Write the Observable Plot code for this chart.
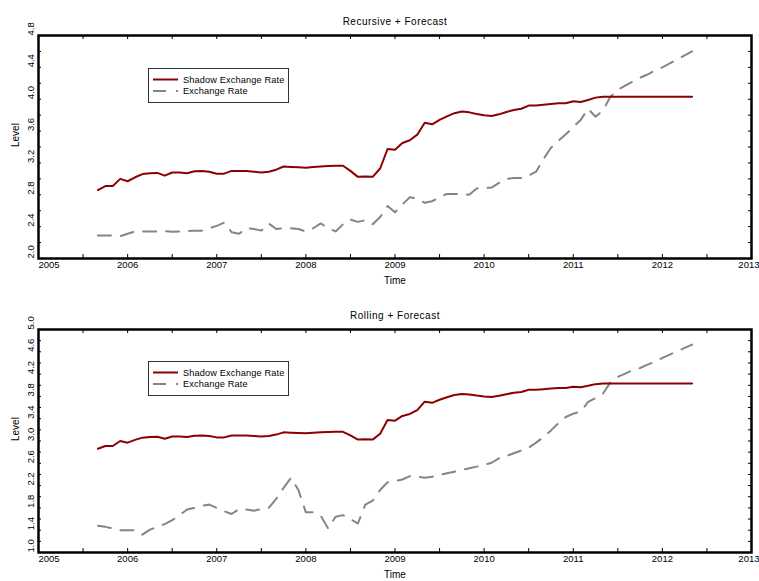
<!DOCTYPE html>
<html><head><meta charset="utf-8">
<script src="https://cdn.jsdelivr.net/npm/d3@7"></script>
<script src="https://cdn.jsdelivr.net/npm/@observablehq/plot@0.6"></script>
<style>
body{margin:0;background:#fff;}
#wrap{position:relative;width:759px;height:581px;overflow:hidden;font-family:"Liberation Sans",Arial,sans-serif;}
.panel{position:absolute;left:0;}
.legend{position:absolute;border:1px solid #333;background:#fff;box-sizing:border-box;}
.legend text{font-family:"Liberation Sans",Arial,sans-serif;font-size:9.2px;letter-spacing:0.15px;fill:#000;}
.ttl{letter-spacing:0.5px;}
</style></head><body>
<div id="wrap"></div>
<script>
// Monthly observations starting September 2005 (81 months, to May 2012)
const startYear = 2005, startMonth = 9;
const shadow = [2.86,2.91,2.91,3.00,2.97,3.02,3.06,3.07,3.075,3.04,
  3.08,3.08,3.07,3.095,3.10,3.09,3.065,3.065,3.10,3.10,
  3.10,3.09,3.08,3.09,3.115,3.155,3.15,3.145,3.14,3.15,
  3.155,3.16,3.165,3.165,3.10,3.025,3.03,3.025,3.13,3.375,
  3.365,3.45,3.485,3.555,3.705,3.685,3.74,3.785,3.825,3.845,
  3.835,3.815,3.80,3.79,3.81,3.84,3.865,3.88,3.92,3.92,
  3.93,3.94,3.95,3.95,3.975,3.965,3.99,4.02,4.03,4.03,
  4.03,4.03,4.03,4.03,4.03,4.03,4.03,4.03,4.03,4.03,
  4.03];
const exchRecursive = [2.29,2.29,2.29,2.28,2.31,2.34,2.34,2.34,2.34,2.345,
  2.335,2.34,2.345,2.35,2.35,2.38,2.41,2.45,2.33,2.31,
  2.38,2.37,2.35,2.44,2.37,2.38,2.38,2.37,2.34,2.38,
  2.44,2.38,2.34,2.43,2.49,2.46,2.48,2.43,2.52,2.66,
  2.58,2.68,2.77,2.75,2.70,2.72,2.77,2.81,2.81,2.81,
  2.80,2.88,2.885,2.89,2.95,3.00,3.01,3.01,3.04,3.09,
  3.25,3.39,3.48,3.56,3.65,3.74,3.88,3.78,3.86,4.03,
  4.12,4.17,4.22,4.27,4.31,4.36,4.40,4.45,4.50,4.55,
  4.60];
const exchRolling = [1.48,1.46,1.43,1.40,1.40,1.40,1.32,1.41,1.46,1.51,
  1.58,1.67,1.77,1.80,1.84,1.86,1.80,1.74,1.69,1.78,
  1.77,1.75,1.78,1.80,1.96,2.16,2.34,2.12,1.72,1.72,
  1.66,1.43,1.64,1.67,1.60,1.52,1.86,1.93,2.12,2.26,
  2.28,2.31,2.37,2.36,2.34,2.36,2.39,2.42,2.45,2.48,
  2.51,2.54,2.57,2.61,2.69,2.73,2.78,2.83,2.88,2.97,
  3.07,3.19,3.32,3.43,3.49,3.53,3.70,3.77,3.85,4.05,
  4.15,4.21,4.27,4.31,4.37,4.42,4.49,4.55,4.61,4.67,
  4.73];
const seriesNames = ["Shadow Exchange Rate", "Exchange Rate"];
const panelTitles = ["Recursive + Forecast", "Rolling + Forecast"];
const yearTicks = [2005,2006,2007,2008,2009,2010,2011,2012,2013];
const halfYearTicks = [2005.5,2006.5,2007.5,2008.5,2009.5,2010.5,2011.5,2012.5];
const topYLabels = [2.0,2.4,2.8,3.2,3.6,4.0,4.4,4.8];
const topYMinor = [2.2,2.6,3.0,3.4,3.8,4.2,4.6];
const botYLabels = [1.0,1.4,1.8,2.2,2.6,3.0,3.4,3.8,4.2,4.6,5.0];
const botYMinor = [1.2,1.6,2.0,2.4,2.8,3.2,3.6,4.0,4.4,4.8];
const xLabel = "Time", yLabel = "Level";

const months = shadow.map((_, i) => startYear + (startMonth - 1 + i) / 12);

const RED = "#8b0000", GREY = "#858585", DASH = "13,10";

function panel(title, exch, yDomain, yLab, yMin, height, mt, mb) {
  const W = 759, ml = 38, mr = 8;
  const pw = W - ml - mr, ph = height - mt - mb;
  const rows = months.map((t, i) => ({t, s: shadow[i], e: exch[i]}));
  const yAll = yLab.concat(yMin);
  const xAll = yearTicks.slice(1, -1).concat(halfYearTicks);
  const n = yearTicks.length;
  return Plot.plot({
    width: W, height, marginLeft: ml, marginRight: mr, marginTop: mt, marginBottom: mb,
    style: {fontFamily: '"Liberation Sans", Arial, sans-serif', fontSize: "9.5px", color: "#000", background: "white", overflow: "visible"},
    x: {type: "linear", domain: [2005, 2013], axis: null},
    y: {type: "linear", domain: yDomain, axis: null},
    marks: [
      Plot.line(rows, {x: "t", y: "e", stroke: GREY, strokeWidth: 2, strokeDasharray: DASH}),
      Plot.line(rows, {x: "t", y: "s", stroke: RED, strokeWidth: 2}),
      Plot.tickY(yAll, {y: d => d, insetRight: pw - 3, stroke: "#000"}),
      Plot.tickY(yAll, {y: d => d, insetLeft: pw - 3, stroke: "#000"}),
      Plot.tickX(xAll, {x: d => d, insetTop: ph - 4, stroke: "#000"}),
      Plot.tickX(xAll, {x: d => d, insetBottom: ph - 4, stroke: "#000"}),
      Plot.frame({stroke: "#000", strokeWidth: 2.5}),
      Plot.text(yLab, {y: d => d, text: d => d.toFixed(1), frameAnchor: "left", dx: -8, rotate: -90, fill: "#000"}),
      Plot.text(yearTicks.slice(1, n - 1), {x: d => d, text: d => String(d), frameAnchor: "bottom", dy: 9, fill: "#000"}),
      Plot.text(yearTicks.slice(0, 1), {x: d => d, text: d => String(d), frameAnchor: "bottom", dy: 9, textAnchor: "start", fill: "#000"}),
      Plot.text(yearTicks.slice(n - 1), {x: d => d, text: d => String(d), frameAnchor: "bottom", dy: 9, dx: 8, textAnchor: "end", fill: "#000"}),
      Plot.text([xLabel], {frameAnchor: "bottom", dy: 25, fontSize: 10, fill: "#000"}),
      Plot.text([yLabel], {frameAnchor: "left", dx: -23, rotate: -90, fontSize: 10, fill: "#000"}),
      Plot.text([title], {frameAnchor: "top", dy: -18, fontSize: 10, fill: "#000", className: "ttl"})
    ]
  });
}

const wrap = document.getElementById("wrap");
const p1 = panel(panelTitles[0], exchRecursive, [2.0, 4.8], topYLabels, topYMinor, 290, 35, 32);
p1.classList.add("panel"); p1.style.top = "0px";
const p2 = panel(panelTitles[1], exchRolling, [1.0, 5.0], botYLabels, botYMinor, 291, 39, 29);
p2.classList.add("panel"); p2.style.top = "290px";
wrap.appendChild(p1); wrap.appendChild(p2);

function legend(left, top) {
  const div = document.createElement("div");
  div.className = "legend";
  div.style.left = left + "px"; div.style.top = top + "px";
  div.style.width = "141px"; div.style.height = "35px";
  const svg = d3.create("svg").attr("width", 139).attr("height", 33);
  const styles = [{stroke: RED, dash: null}, {stroke: GREY, dash: DASH}];
  seriesNames.forEach((name, i) => {
    const cy = 10.5 + i * 11.5;
    svg.append("line").attr("x1", 4).attr("x2", 29).attr("y1", cy).attr("y2", cy)
      .attr("stroke", styles[i].stroke).attr("stroke-width", 2)
      .attr("stroke-dasharray", styles[i].dash);
    svg.append("text").attr("x", 34).attr("y", cy + 3.3).text(name);
  });
  div.appendChild(svg.node());
  wrap.appendChild(div);
}
legend(148, 68);
legend(148, 361);
</script>
</body></html>
